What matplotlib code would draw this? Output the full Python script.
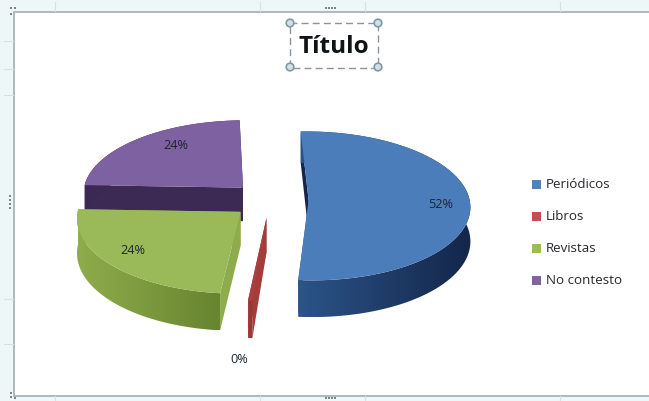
"""
Gráfico de pastel 3D con porciones separadas, dibujado a mano sobre una
proyección en perspectiva porque matplotlib no trae pie 3D.
"""
import numpy as np
from matplotlib import pyplot as plt
from matplotlib.patches import Circle, Polygon, Rectangle

plt.rcParams['font.family'] = ['Open Sans', 'DejaVu Sans']

categories = ['Periódicos', 'Libros', 'Revistas', 'No contesto']
shares = [52, 0.4, 24, 24]
top_colors = ['#4b7dba', '#a8403e', '#9aba59', '#7d61a1']
legend_colors = ['#4f81bd', '#c0504d', '#9bbb59', '#8064a2']
wall_dark = ['#14264a', '#8f3533', '#67852f', '#33214d']
wall_light = ['#2b5488', '#a33c3a', '#8fac4c', '#3c2a55']
label_xy = [(441, 205), (239, 360), (133, 251), (176, 146)]

# Parámetros de la proyección (píxeles de la figura)
CX, CY = 270, 201
RX, RY = 161, 74
PERSP = 0.074
DEPTH = 34
EXPLODE = 0.24
START = -2.0


def project(u, v):
    """Pasa un punto del plano del pastel a coordenadas de la figura."""
    w = 1 + PERSP * v
    return CX + RX * u / w, CY - RY * v / w, DEPTH / w


def slice_points(theta0, theta1):
    """Vértice y borde de una porción separada, con su versión inferior."""
    mid = np.radians((theta0 + theta1) / 2)
    off_u, off_v = EXPLODE * np.sin(mid), EXPLODE * np.cos(mid)
    t = np.radians(np.linspace(theta0, theta1, 160))
    rim_x, rim_y, rim_d = project(off_u + np.sin(t), off_v + np.cos(t))
    apex_x, apex_y, apex_d = project(off_u, off_v)
    rim = np.column_stack([rim_x, rim_y])
    rim_low = np.column_stack([rim_x, rim_y + rim_d])
    apex = np.array([apex_x, apex_y])
    apex_low = np.array([apex_x, apex_y + apex_d])
    return apex, apex_low, rim, rim_low


def gradient_fill(ax, points, c_left, c_right, zorder):
    """Rellena un polígono con un degradado horizontal."""
    patch = Polygon(points, closed=True, fc='none', ec='none', zorder=zorder)
    ax.add_patch(patch)
    x0, x1 = points[:, 0].min(), points[:, 0].max()
    y0, y1 = points[:, 1].min(), points[:, 1].max()
    left = np.array(plt.matplotlib.colors.to_rgb(c_left))
    right = np.array(plt.matplotlib.colors.to_rgb(c_right))
    ramp = np.linspace(0, 1, 64)[:, None]
    row = (left * (1 - ramp) + right * ramp)[None, :, :]
    img = ax.imshow(row, extent=(x0, x1, y1, y0), aspect='auto',
                    interpolation='bilinear', zorder=zorder)
    img.set_clip_path(patch)


def draw_pie(ax):
    total = sum(shares)
    sweeps = [s / total * 360 for s in shares]
    starts = START + np.concatenate([[0], np.cumsum(sweeps)[:-1]])
    # De atrás hacia delante: la porción morada queda tapada por la verde
    for z, i in enumerate([3, 0, 2, 1]):
        base = 3 + z * 3
        apex, apex_low, rim, rim_low = slice_points(starts[i], starts[i] + sweeps[i])
        top = np.vstack([apex, rim])

        # Paredes radiales: la inicial y la final de cada porción
        wall_a = np.vstack([apex, rim[0], rim_low[0], apex_low])
        wall_b = np.vstack([apex, rim[-1], rim_low[-1], apex_low])
        ax.add_patch(Polygon(wall_a, closed=True, fc=wall_dark[i] if i == 0 else wall_light[i],
                             ec='none', zorder=base))
        ax.add_patch(Polygon(wall_b, closed=True, fc=wall_light[i], ec='none', zorder=base))

        # Pared exterior con degradado
        outer = np.vstack([rim, rim_low[::-1]])
        gradient_fill(ax, outer, wall_light[i], wall_dark[i], base + 1)

        ax.add_patch(Polygon(top, closed=True, fc=top_colors[i], ec='none', zorder=base + 2))

    for i, (x, y) in enumerate(label_xy):
        ax.text(x, y, f'{round(shares[i] / total * 100)}%', ha='center', va='center',
                fontsize=9.2, color='#1d2530', zorder=30)


def draw_legend(ax):
    for i, name in enumerate(categories):
        y = 185 + i * 32
        ax.add_patch(Rectangle((532, y - 4), 9, 9, fc=legend_colors[i], ec='none', zorder=5))
        ax.text(546, y, name, ha='left', va='center', fontsize=9.6, color='#26282c', zorder=5)


def draw_chart_frame(ax):
    """Marco del área de gráfico seleccionada y sus puntos de agarre."""
    ax.add_patch(Rectangle((0, 0), 649, 402, fc='#edf7f8', ec='none', zorder=0))
    ax.add_patch(Rectangle((14, 13), 640, 384, fc='white', ec='#a9b4b8', lw=1.3, zorder=1))
    for x in [55, 260, 365, 560]:
        ax.plot([x, x], [3, 12], color='#d5e2e4', lw=0.8, zorder=1)
        ax.plot([x, x], [397, 402], color='#d5e2e4', lw=0.8, zorder=1)
    for y in [42, 70, 96, 300, 345]:
        ax.plot([4, 13], [y, y], color='#d5e2e4', lw=0.8, zorder=1)
    for x, y in [(326, 9), (329, 9), (332, 9), (335, 9), (326, 399), (329, 399),
                 (332, 399), (335, 399), (11, 9), (15, 9), (11, 15),
                 (10, 197), (10, 201), (10, 205), (10, 209), (11, 394), (11, 398), (15, 399)]:
        ax.add_patch(Rectangle((x - 1, y - 1), 2, 2, fc='#7d8487', ec='none', zorder=2))


def draw_title(ax):
    ax.add_patch(Rectangle((290, 24), 88, 45, fc='none', ec='#8d9396', lw=1.0,
                           ls=(0, (5, 3)), zorder=6))
    for x, y in [(290, 24), (378, 24), (290, 68), (378, 68)]:
        ax.add_patch(Circle((x, y), 3.8, fc='#d4e0e4', ec='#7f98a6', lw=1.2, zorder=7))
    ax.text(334, 47, 'Título', ha='center', va='center', fontsize=17.5,
            fontweight='bold', color='#111417', zorder=7)


fig = plt.figure(figsize=(6.49, 4.02), dpi=100)
ax = fig.add_axes([0, 0, 1, 1])
draw_chart_frame(ax)
draw_title(ax)
draw_pie(ax)
draw_legend(ax)
ax.set_xlim(0, 649)
ax.set_ylim(402, 0)
ax.axis('off')
fig.savefig('out.png', dpi=100)
